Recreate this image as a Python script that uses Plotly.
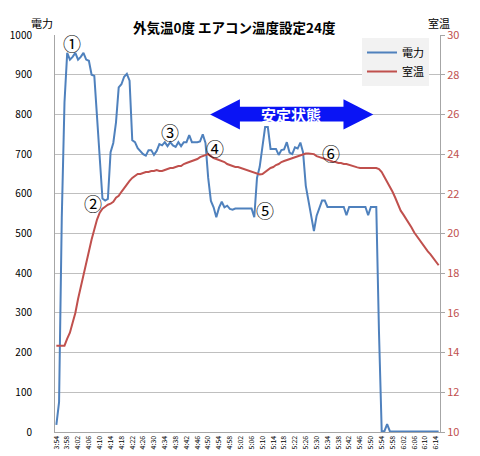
import plotly.graph_objects as go

# one sample per minute, 3:54 .. 6:15
power = [
    18, 75, 540, 830, 955, 938, 945, 955, 938, 945,
    955, 938, 935, 900, 897, 790, 700, 588, 583, 587,
    705, 728, 780, 868, 876, 895, 902, 885, 735, 730,
    715, 708, 700, 696, 710, 710, 698, 708, 725, 722,
    730, 720, 730, 722, 718, 730, 720, 730, 730, 748,
    730, 730, 730, 732, 750, 728, 640, 582, 566, 541,
    565, 580, 566, 570, 562, 560, 563, 563, 563, 563,
    563, 563, 563, 541, 640, 668, 725, 768, 768, 713,
    713, 713, 698, 710, 712, 730, 704, 700, 717, 714,
    729, 704, 620, 580, 545, 506, 545, 565, 583, 583,
    567, 567, 567, 567, 567, 567, 567, 546, 567, 567,
    567, 567, 567, 567, 567, 546, 567, 567, 567, 250,
    2, 2, 20, 2, 1, 1, 1, 1, 1, 1,
    1, 1, 1, 1, 1, 1, 1, 1, 1, 1,
    1, 1,
]

room_temp = [
    14.35, 14.35, 14.35, 14.35, 14.7, 15.0, 15.5, 16.0, 16.7, 17.3,
    18.0, 18.6, 19.1, 19.7, 20.2, 20.7, 21.05, 21.25, 21.35, 21.45,
    21.5, 21.6, 21.8, 21.9, 22.1, 22.3, 22.5, 22.65, 22.8, 22.9,
    23.0, 23.0, 23.05, 23.1, 23.1, 23.15, 23.15, 23.2, 23.15, 23.15,
    23.2, 23.25, 23.3, 23.3, 23.35, 23.4, 23.4, 23.5, 23.55, 23.6,
    23.65, 23.7, 23.75, 23.85, 23.9, 23.95, 24.0, 23.9, 23.8, 23.75,
    23.7, 23.65, 23.6, 23.5, 23.45, 23.4, 23.35, 23.35, 23.3, 23.25,
    23.2, 23.15, 23.1, 23.05, 23.0, 22.97, 23.0, 23.1, 23.2, 23.3,
    23.35, 23.45, 23.5, 23.6, 23.65, 23.7, 23.75, 23.8, 23.85, 23.9,
    23.95, 24.0, 24.03, 24.03, 24.0, 24.0, 23.9, 23.85, 23.8, 23.75,
    23.7, 23.67, 23.62, 23.6, 23.55, 23.55, 23.5, 23.5, 23.45, 23.4,
    23.35, 23.33, 23.3, 23.3, 23.3, 23.3, 23.3, 23.3, 23.3, 23.25,
    23.1, 22.85, 22.6, 22.4, 22.1, 21.8, 21.45, 21.15, 20.95, 20.75,
    20.55, 20.3, 20.05, 19.85, 19.65, 19.45, 19.3, 19.1, 18.95, 18.75,
    18.6, 18.4,
]

tick_labels = [
    "3:54", "3:58", "4:02", "4:06", "4:10", "4:14", "4:18", "4:22", "4:26",
    "4:30", "4:34", "4:38", "4:42", "4:46", "4:50", "4:54", "4:58", "5:02",
    "5:06", "5:10", "5:14", "5:18", "5:22", "5:26", "5:30", "5:34", "5:38",
    "5:42", "5:46", "5:50", "5:54", "5:58", "6:02", "6:06", "6:10", "6:14",
]

# circled markers: (label, minute index, power level)
markers = [
    ("①", 5.6, 979), ("②", 13.6, 576), ("③", 41.9, 755),
    ("④", 58.5, 716), ("⑤", 77.0, 559), ("⑥", 101.2, 702),
]

BLUE = "#4F81BD"
RED = "#C0504D"
FONT = "Noto Sans CJK JP"

# page body has an 8px margin, so the figure is a bit smaller than the window
OFF = 8
W, H = 472, 448
L, R, T, B = 47, 40, 27, 24


def px_to_paper(x, y):
    # window pixel -> paper coords of the plot area
    return ((x - OFF - L) / (W - L - R), (H - B - (y - OFF)) / (H - T - B))


minutes = list(range(len(power)))

fig = go.Figure()
fig.add_trace(go.Scatter(x=minutes, y=power, name="電力", mode="lines",
                         line=dict(color=BLUE, width=2)))
fig.add_trace(go.Scatter(x=minutes, y=room_temp, name="室温", mode="lines",
                         line=dict(color=RED, width=2), yaxis="y2"))

# double-headed arrow for the steady state
ax0, ax1, ax2, ax3 = 56.7, 67.7, 105.9, 116.9
path = (f"M {ax0},800 L {ax1},838 L {ax1},819 L {ax2},819 L {ax2},838 "
        f"L {ax3},800 L {ax2},762 L {ax2},782 L {ax1},782 L {ax1},762 Z")
fig.add_shape(type="path", path=path, xref="x", yref="y",
              fillcolor="#0A14F5", line=dict(width=0))
fig.add_annotation(x=86.5, y=800, xref="x", yref="y", text="<b>安定状態</b>",
                   showarrow=False, font=dict(family=FONT, size=15, color="white"))

for label, mx, my in markers:
    fig.add_annotation(x=mx, y=my, xref="x", yref="y", text=label, showarrow=False,
                       font=dict(family=FONT, size=18, color="black"))

for text, px, py, size in [("<b>外気温0度 エアコン温度設定24度</b>", 234, 15, 13.5),
                           ("電力", 29, 13, 11), ("室温", 452, 13, 11)]:
    ax, ay = px_to_paper(px, py)
    fig.add_annotation(x=ax, y=ay, xref="paper", yref="paper", text=text,
                       showarrow=False, font=dict(family=FONT, size=size, color="black"))

lx, ly = px_to_paper(362, 38)

fig.update_layout(
    width=W, height=H,
    margin=dict(l=L, r=R, t=T, b=B),
    paper_bgcolor="white", plot_bgcolor="white",
    font=dict(family=FONT, size=10, color="black"),
    showlegend=True,
    legend=dict(x=lx, y=ly, xanchor="left", yanchor="top", itemwidth=30,
                bgcolor="#F2F2F2", font=dict(size=11), tracegroupgap=0),
    xaxis=dict(
        range=[-0.5, len(power) - 0.5],
        tickvals=list(range(0, len(power), 4)), ticktext=tick_labels,
        tickangle=-90, tickfont=dict(size=7), showgrid=False,
        showline=True, linecolor="#A6A6A6", linewidth=1,
        zeroline=False, automargin=False,
    ),
    yaxis=dict(
        range=[0, 1000], dtick=100, showgrid=True, gridcolor="#BFBFBF",
        showline=True, linecolor="#A6A6A6", zeroline=False,
        ticks="", ticklabelstandoff=20, tickfont=dict(size=10),
        automargin=False,
    ),
    yaxis2=dict(
        range=[10, 30], dtick=2, overlaying="y", side="right",
        showgrid=False, showline=True, linecolor="#A6A6A6", zeroline=False,
        ticks="outside", ticklen=4, tickcolor="#A6A6A6",
        tickfont=dict(size=11, color=RED), automargin=False,
    ),
)

fig.write_html("out.html")
